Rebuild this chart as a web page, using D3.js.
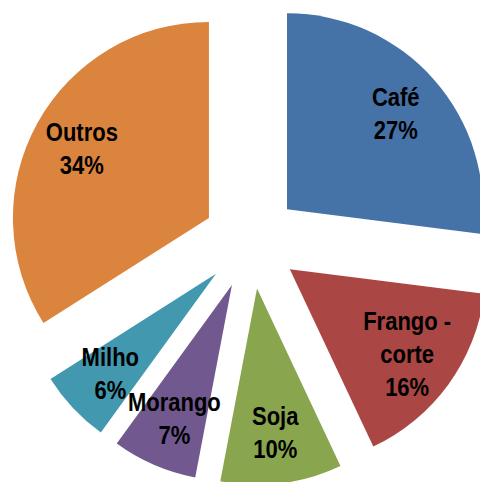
<!DOCTYPE html>
<html>
<head>
<meta charset="utf-8">
<script src="https://cdn.jsdelivr.net/npm/d3@7"></script>
<style>
html,body{margin:0;padding:0;background:#fff;}
svg{display:block;}
text{font-family:"Liberation Sans",Arial,sans-serif;font-weight:bold;fill:#000;}
</style>
</head>
<body>
<svg id="chart" width="480" height="482"></svg>
<script>
const categories = ["Café", "Frango - corte", "Soja", "Morango", "Milho", "Outros"];
const values = [27, 16, 10, 7, 6, 34];
const colors = ["#4572A7", "#AA4643", "#89A54E", "#71588F", "#4198AF", "#DB843D"];

const W = 480, H = 482;
const cx = 251, cy = 241;
const R = 196, explode = 48, labelR = 145;
const fontSize = 25, lineH = 33, squeeze = 0.88;

const svg = d3.select("#chart");
const g = svg.append("g").attr("transform", `translate(${cx},${cy})`);

const data = categories.map((c, i) => ({name: c, value: values[i], color: colors[i]}));
const total = d3.sum(values);

const pie = d3.pie().value(d => d.value).sort(null);
const arc = d3.arc().innerRadius(0).outerRadius(R);
const labelArc = d3.arc().innerRadius(labelR).outerRadius(labelR);

const arcs = pie(data);

const slice = g.selectAll("g.slice").data(arcs).enter().append("g")
  .attr("class", "slice")
  .attr("transform", d => {
    const a = (d.startAngle + d.endAngle) / 2;
    return `translate(${explode * Math.sin(a)},${-explode * Math.cos(a)})`;
  });

slice.append("path").attr("d", arc).attr("fill", d => d.data.color);

function lines(d) {
  const pct = Math.round(d.data.value / total * 100) + "%";
  const parts = d.data.name.includes(" - ")
    ? [d.data.name.split(" - ")[0] + " -", d.data.name.split(" - ")[1]]
    : [d.data.name];
  return parts.concat([pct]);
}

slice.each(function(d) {
  const [lx, ly] = labelArc.centroid(d);
  const ls = lines(d);
  const t = d3.select(this).append("text")
    .attr("text-anchor", "middle")
    .attr("font-size", fontSize)
    .attr("transform", `translate(${lx},${ly}) scale(${squeeze},1)`);
  ls.forEach((s, i) => {
    t.append("tspan")
      .attr("x", 0)
      .attr("y", (i - (ls.length - 1) / 2) * lineH + fontSize * 0.36)
      .text(s);
  });
});
</script>
</body>
</html>
